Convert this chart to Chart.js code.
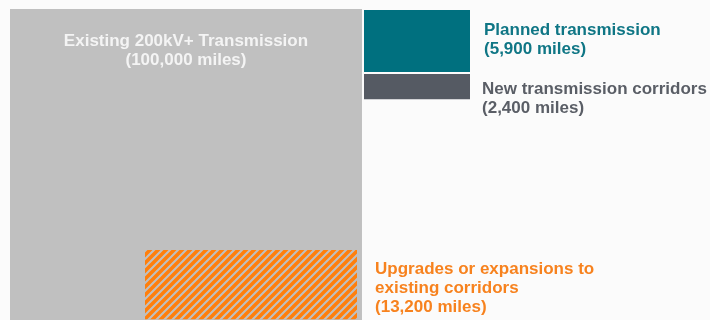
<!DOCTYPE html>
<html>
<head>
<meta charset="utf-8">
<script src="https://cdn.jsdelivr.net/npm/chart.js@4.4.1/dist/chart.umd.min.js"></script>
<style>
  body { margin: 0; background: #fbfbfb; }
  #wrap { width: 710px; height: 320px; position: relative; }
</style>
</head>
<body>
<div id="wrap"><canvas id="miles"></canvas></div>
<script>
// values
var categories = ['Existing 200kV+ Transmission', 'Planned transmission', 'New transmission corridors', 'Upgrades or expansions to existing corridors'];
var miles = [100000, 5900, 2400, 13200];
var labelLines = [
  ['Existing 200kV+ Transmission'],
  ['Planned transmission'],
  ['New transmission corridors'],
  ['Upgrades or expansions to', 'existing corridors']
];

// layout in axis units: left edge, top edge, width (height = miles / width)
var boxes = [
  {x: 0,     y: 0,   w: 316.23},
  {x: 318,   y: 1,   w: 95.3},
  {x: 318,   y: 65,  w: 95.3},
  {x: 121.3, y: 241, w: 190.5}
];
// where each label sits, relative to its box (pixels)
var labelPos = [
  {align: 'center', dx: 0,  y: 46},
  {align: 'left',   dx: 14, y: 35},
  {align: 'left',   dx: 12, y: 94},
  {align: 'left',   dx: 18, y: 274}
];
var fills = ['#c0c0c0', '#00707f', '#555a63', null];
var textColors = ['#f4f4f4', '#0f7685', '#5a5e66', '#f7821e'];

function makeHatch(color) {
  var c = document.createElement('canvas');
  c.width = 8; c.height = 8;
  var g = c.getContext('2d');
  g.strokeStyle = color;
  g.lineWidth = 3.6;
  g.beginPath();
  g.moveTo(-2, 10); g.lineTo(10, -2);
  g.moveTo(-2, 2); g.lineTo(2, -2);
  g.moveTo(6, 10); g.lineTo(10, 6);
  g.stroke();
  return g.createPattern(c, 'repeat');
}
fills[3] = makeHatch('#ff7f0c');

var datasets = categories.map(function(name, i) {
  var b = boxes[i];
  var h = miles[i] / b.w;
  return {
    label: name,
    data: [{x: b.x, y: b.y}, {x: b.x + b.w, y: b.y}],
    showLine: true,
    borderWidth: 0,
    borderColor: 'rgba(0,0,0,0)',
    pointRadius: 0,
    backgroundColor: fills[i],
    fill: {value: b.y + h},
    order: i == 0 ? 1 : 0
  };
});

const labelPlugin = {
  id: 'boxLabels',
  afterDatasetsDraw: (chart) => {
    const {ctx} = chart;
    const xs = chart.scales.x;
    ctx.save();
    ctx.font = 'bold 17px "Liberation Sans", Arial, sans-serif';
    ctx.textBaseline = 'alphabetic';
    categories.forEach((name, i) => {
      var b = boxes[i], p = labelPos[i];
      var lines = labelLines[i].concat(['(' + miles[i].toLocaleString('en-US') + ' miles)']);
      var x;
      if (p.align == 'center') {
        x = xs.getPixelForValue(b.x + b.w / 2);
      } else {
        x = xs.getPixelForValue(b.x + b.w) + p.dx;
      }
      ctx.textAlign = p.align;
      ctx.fillStyle = textColors[i];
      lines.forEach((t, j) => {
        ctx.fillText(t, x, p.y + j * 18.8);
      });
    });
    ctx.restore();
  }
};

new Chart(document.getElementById('miles'), {
  type: 'scatter',
  data: {datasets: datasets},
  options: {
    responsive: true,
    maintainAspectRatio: false,
    animation: false,
    events: [],
    layout: {padding: 0},
    plugins: {legend: {display: false}, tooltip: {enabled: false}},
    scales: {
      x: {type: 'linear', display: false, min: -8.98, max: 628.9},
      y: {type: 'linear', display: false, reverse: true, min: -9, max: 311}
    }
  },
  plugins: [labelPlugin]
});
</script>
</body>
</html>
